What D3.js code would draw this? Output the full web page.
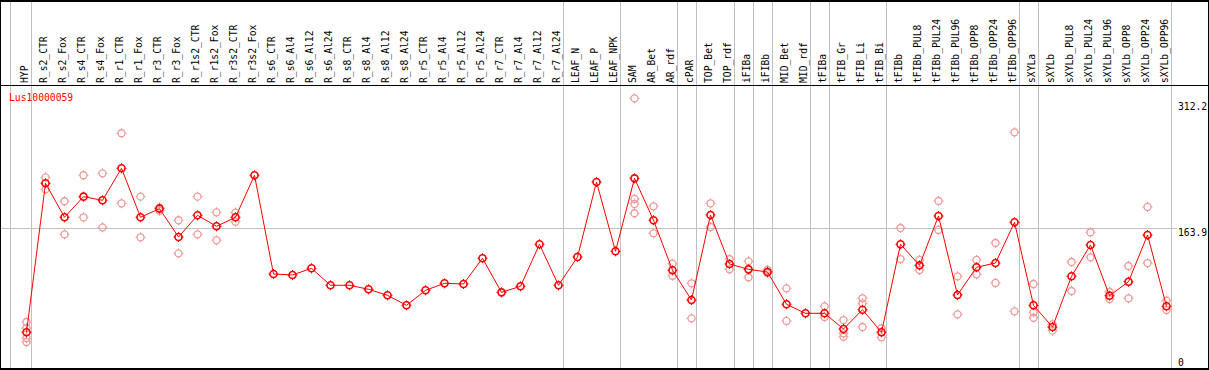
<!DOCTYPE html>
<html>
<head>
<meta charset="utf-8">
<script src="https://cdn.jsdelivr.net/npm/d3@7"></script>
<style>
    body { margin: 0; background: #fff; }
    svg { display: block; }
    text { font-family: "DejaVu Sans Mono", "Liberation Mono", monospace; font-size: 9.7px; }
</style>
</head>
<body>
<svg></svg>
<script>
const geneName = "Lus10000059";

const categories = [
    "HYP", "R_s2_CTR", "R_s2_Fox", "R_s4_CTR", "R_s4_Fox", "R_r1_CTR", "R_r1_Fox",
    "R_r3_CTR", "R_r3_Fox", "R_r1s2_CTR", "R_r1s2_Fox", "R_r3s2_CTR", "R_r3s2_Fox",
    "R_s6_CTR", "R_s6_Al4", "R_s6_Al12", "R_s6_Al24", "R_s8_CTR", "R_s8_Al4",
    "R_s8_Al12", "R_s8_Al24", "R_r5_CTR", "R_r5_Al4", "R_r5_Al12", "R_r5_Al24",
    "R_r7_CTR", "R_r7_Al4", "R_r7_Al12", "R_r7_Al24", "LEAF_N", "LEAF_P", "LEAF_NPK",
    "SAM", "AR_Bet", "AR_rdf", "cPAR", "TOP_Bet", "TOP_rdf", "iFIBa", "iFIBb",
    "MID_Bet", "MID_rdf", "tFIBa", "tFIB_Gr", "tFIB_Li", "tFIB_Bi", "tFIBb",
    "tFIBb_PUL8", "tFIBb_PUL24", "tFIBb_PUL96", "tFIBb_OPP8", "tFIBb_OPP24", "tFIBb_OPP96",
    "sXYLa", "sXYLb", "sXYLb_PUL8", "sXYLb_PUL24", "sXYLb_PUL96", "sXYLb_OPP8",
    "sXYLb_OPP24", "sXYLb_OPP96"
];

// number of samples in each tissue block (separated by grey lines)
const groupSizes = [1, 28, 3, 3, 1, 2, 1, 1, 2, 1, 3, 7, 1, 7];

const means = [
    41.9, 216.8, 176.9, 201.1, 196.8, 234.4, 176.9,
    187.0, 153.8, 179.2, 166.3, 176.9, 226.2,
    110.3, 109.2, 117.0, 97.1, 97.1, 92.4,
    85.3, 73.6, 91.2, 99.4, 98.6, 128.8,
    88.8, 95.9, 145.2, 97.1, 130.3, 218.3, 137.0,
    222.6, 173.4, 114.7, 79.8, 179.6, 122.1, 115.8, 112.7,
    74.8, 64.2, 64.2, 45.8, 68.4, 41.9, 145.2,
    120.5, 178.4, 85.7, 118.2, 123.2, 171.0,
    73.6, 48.1, 107.6, 144.4, 84.9, 101.3,
    156.1, 72.4
];

const replicates = [
    [54.0, 46.9, 35.2, 30.5], [223.8, 209.7], [195.7, 156.9], [226.2, 176.9], [228.5, 165.1],
    [275.5, 193.3], [201.1, 153.4],
    [188.5, 184.5], [173.4, 134.6], [201.1, 156.9], [182.7, 149.9], [182.3, 171.7], [],
    [], [], [], [], [], [],
    [], [], [], [], [], [],
    [], [], [], [], [], [], [],
    [316.5, 198.4, 192.5, 181.6], [189.8, 158.1], [122.4, 108.3], [99.4, 58.3],
    [193.3, 165.5], [127.9, 115.8], [125.2, 106.5], [115.0, 111.5],
    [93.5, 55.2], [], [72.4, 59.9], [56.3, 40.7, 36.7], [81.8, 75.9, 48.1], [46.6, 36.0],
    [164.3, 127.9],
    [126.8, 115.0], [196.0, 162.0], [107.6, 63.0], [126.8, 110.0], [146.7, 99.8], [276.6, 66.5],
    [98.6, 65.4, 59.0], [51.3, 43.8], [124.4, 90.4], [159.3, 129.9], [89.2, 81.0],
    [119.7, 81.8], [189.0, 123.2], [79.0, 68.1]
];

const yTicks = [0, 163.9, 312.2];

const width = 1209,
    height = 370,
    headerBottom = 85,
    plotBottom = 368,
    plotTop = 102;

const svg = d3.select("svg");
let xScale, yScale;

const drawCanvas = () => {
    svg.attr("width", width).attr("height", height);
};

const generateScales = () => {
    xScale = d3.scalePoint()
        .domain(categories)
        .range([26.5, 1166.5]);

    yScale = d3.scaleLinear()
        .domain([0, d3.max(yTicks)])
        .range([plotBottom, plotTop]);
};

const drawGrid = () => {
    // vertical separators between tissue blocks
    let ends = [], acc = 0;
    groupSizes.forEach((n) => {
        acc += n;
        ends.push(categories[acc - 1]);
    });
    const sepX = [10.5].concat(ends.map((c) => Math.round(xScale(c) + 4) + 0.5));

    svg.append("g")
        .selectAll("line")
        .data(sepX)
        .enter()
        .append("line")
        .attr("x1", (d) => d)
        .attr("x2", (d) => d)
        .attr("y1", 0)
        .attr("y2", height)
        .attr("stroke", "#c0c0c0")
        .attr("stroke-width", 1);

    // horizontal grid at middle tick
    svg.append("line")
        .attr("x1", 0)
        .attr("x2", 1177)
        .attr("y1", Math.round(yScale(yTicks[1])) + 0.5)
        .attr("y2", Math.round(yScale(yTicks[1])) + 0.5)
        .attr("stroke", "#c0c0c0")
        .attr("stroke-width", 1);
};

const drawFrame = () => {
    const frame = svg.append("g").attr("stroke", "#000").attr("stroke-width", 1);
    frame.append("line").attr("x1", 0).attr("x2", width).attr("y1", 0.5).attr("y2", 0.5);
    frame.append("line").attr("x1", 0).attr("x2", width).attr("y1", 1.5).attr("y2", 1.5);
    frame.append("line").attr("x1", 0).attr("x2", width)
        .attr("y1", headerBottom + 0.5).attr("y2", headerBottom + 0.5);
    frame.append("line").attr("x1", 0).attr("x2", width)
        .attr("y1", height - 1.5).attr("y2", height - 1.5);
    frame.append("line").attr("x1", 0).attr("x2", width)
        .attr("y1", height - 0.5).attr("y2", height - 0.5);
    frame.append("line").attr("x1", 0.5).attr("x2", 0.5).attr("y1", 0).attr("y2", height);
    frame.append("line").attr("x1", width - 0.5).attr("x2", width - 0.5).attr("y1", 0).attr("y2", height);
};

const drawLabels = () => {
    svg.append("g")
        .selectAll("text")
        .data(categories)
        .enter()
        .append("text")
        .attr("transform", (d) => "translate(" + (xScale(d) + 1.5) + "," + 83 + ") rotate(-90)")
        .attr("text-anchor", "start")
        .attr("fill", "#000")
        .text((d) => d);

    svg.append("text")
        .attr("x", 9)
        .attr("y", 100.5)
        .attr("fill", "#ff0000")
        .text(geneName);

    svg.append("g")
        .selectAll("text")
        .data(yTicks)
        .enter()
        .append("text")
        .attr("x", 1178)
        .attr("y", (d) => Math.min(yScale(d) + 8, 366))
        .attr("fill", "#000")
        .text((d) => d);
};

const markerPath = (x, y) => {
    const r = 3.5;
    return "M" + x + "," + (y - r - 1.5) + "V" + (y - r) +
        "M" + x + "," + (y + r) + "V" + (y + r + 1.5) +
        "M" + (x - r - 1.5) + "," + y + "H" + (x - r) +
        "M" + (x + r) + "," + y + "H" + (x + r + 1.5);
};

const drawMarkers = (g, points, color, sw) => {
    g.selectAll("circle")
        .data(points)
        .enter()
        .append("circle")
        .attr("cx", (d) => xScale(d.cat))
        .attr("cy", (d) => yScale(d.value))
        .attr("r", 3.5)
        .attr("fill", "none")
        .attr("stroke", color)
        .attr("stroke-width", sw);

    g.selectAll("path")
        .data(points)
        .enter()
        .append("path")
        .attr("d", (d) => markerPath(xScale(d.cat), yScale(d.value)))
        .attr("fill", "none")
        .attr("stroke", color)
        .attr("stroke-width", 1);
};

const drawData = () => {
    const reps = [];
    replicates.forEach((list, i) => {
        list.forEach((v) => reps.push({ cat: categories[i], value: v }));
    });
    drawMarkers(svg.append("g"), reps, "#f09a9a", 1.3);

    const line = d3.line()
        .x((d, i) => xScale(categories[i]))
        .y((d) => yScale(d));

    svg.append("path")
        .datum(means)
        .attr("d", line)
        .attr("fill", "none")
        .attr("stroke", "#ff0000")
        .attr("stroke-width", 1);

    const pts = means.map((v, i) => ({ cat: categories[i], value: v }));
    drawMarkers(svg.append("g"), pts, "#ff0000", 1.6);
};

drawCanvas();
generateScales();
drawGrid();
drawFrame();
drawData();
drawLabels();
</script>
</body>
</html>
